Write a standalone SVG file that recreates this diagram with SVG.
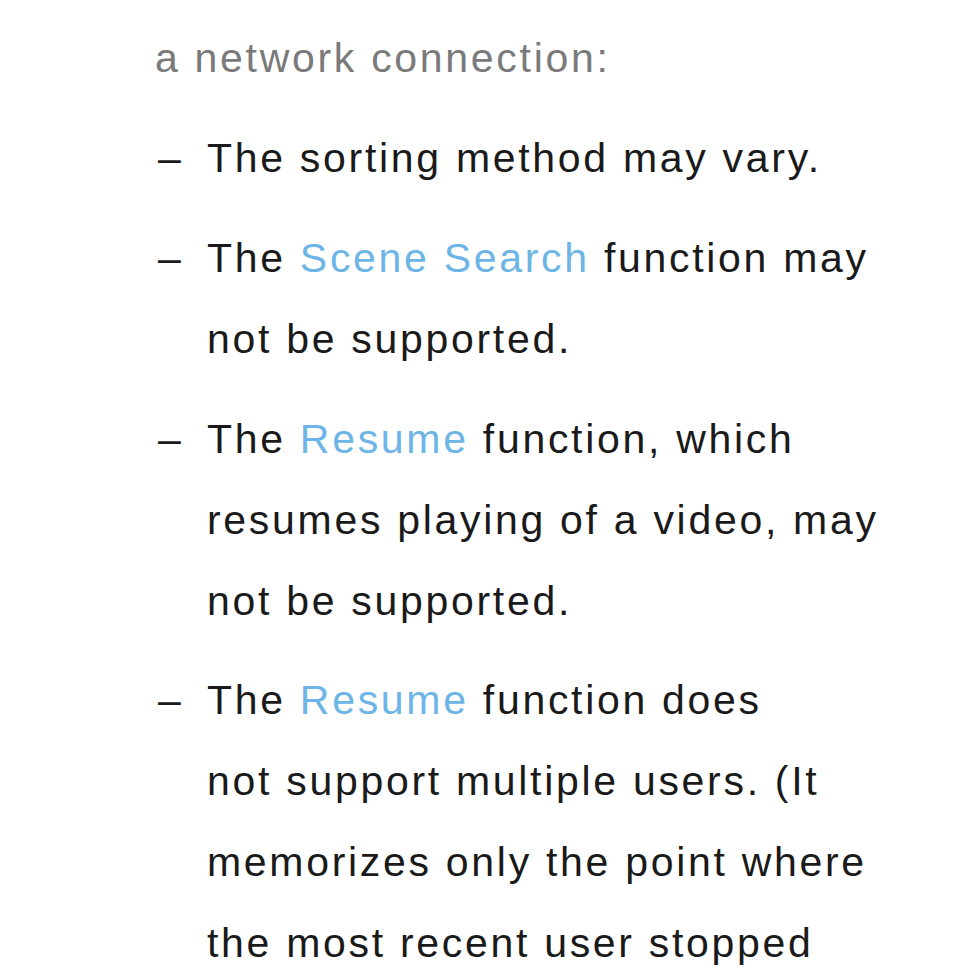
<svg xmlns="http://www.w3.org/2000/svg" width="954" height="977" viewBox="0 0 954 977">
<style>
text{font-family:"Liberation Sans",Arial,sans-serif;font-size:41px;fill:#1a1a1a;letter-spacing:2.7px}
.g{fill:#7a7a7a}
.b{fill:#6cb5e6}
</style>
<rect width="954" height="977" fill="#fff"/>
<text class="g" x="155" y="72">a network connection:</text>
<g id="dashes">
<text x="158" y="172">–</text>
<text x="158" y="272">–</text>
<text x="158" y="453">–</text>
<text x="158" y="714">–</text>
</g>
<text x="207" y="172">The sorting method may vary.</text>
<text x="207" y="272">The <tspan class="b">Scene Search</tspan> function may</text>
<text x="207" y="353">not be supported.</text>
<text x="207" y="453">The <tspan class="b">Resume</tspan> function, which</text>
<text x="207" y="534">resumes playing of a video, may</text>
<text x="207" y="615">not be supported.</text>
<text x="207" y="714">The <tspan class="b">Resume</tspan> function does</text>
<text x="207" y="795">not support multiple users. (It</text>
<text x="207" y="876">memorizes only the point where</text>
<text x="207" y="957">the most recent user stopped</text>
</svg>
